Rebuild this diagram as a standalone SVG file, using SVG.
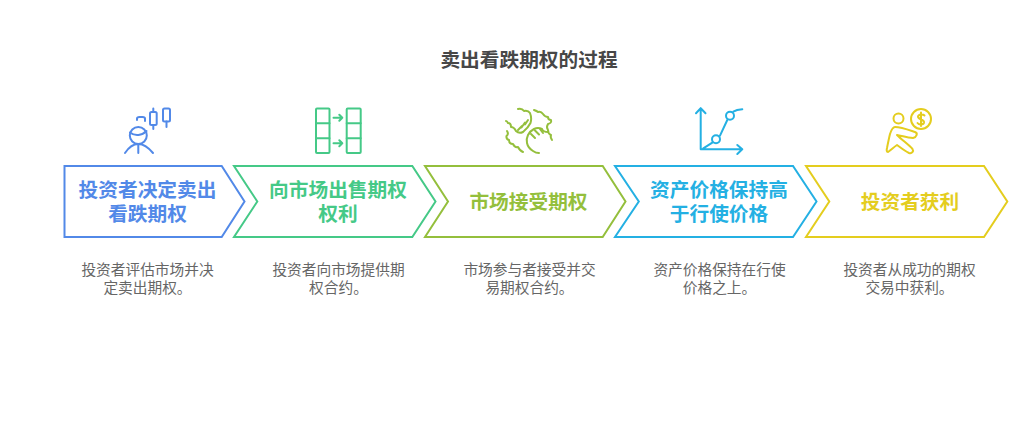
<svg xmlns="http://www.w3.org/2000/svg" width="1024" height="427" viewBox="0 0 1024 427">
<style>
text{font-family:"Liberation Sans","Noto Sans CJK SC",sans-serif;text-anchor:middle}
.t{font-size:19.7px;font-weight:700;fill:#474747}
.l{font-size:19.7px;font-weight:700}
.d{font-size:14.7px;fill:#666}
.s{fill:none;stroke-width:2;stroke-linejoin:miter}
.i{fill:none;stroke-width:2;stroke-linecap:round;stroke-linejoin:round}
.b{stroke:#5289e8}.g{stroke:#45c987}.o{stroke:#94bf3c}.c{stroke:#24b0e3}.y{stroke:#e4cd1e}
</style>
<rect width="1024" height="427" fill="#fff"/>
<text class="t" x="529" y="67">卖出看跌期权的过程</text>
<g id="node-1">
<path class="i b" d="M125 153C129 147 133 144 138.300 144C143 144 148 147 153 153M138.300 144V153"/>
<circle class="i b" cx="138.300" cy="135.500" r="8.500"/><path class="i b" d="M130 132.500C135 136.500 142 135.500 146.500 131"/>
<path class="i b" d="M137 120V118.500C137 117.500 138 117 139.500 117H142.500C144 117 145 117.500 145 118.500V121"/>
<rect class="i b" x="150" y="112" width="6.700" height="13" rx="1.500"/><path class="i b" d="M153.300 108.500V112M153.300 125V129"/>
<rect class="i b" x="163" y="108.500" width="7" height="13" rx="1.500"/><path class="i b" d="M166.500 121.500V127"/>
<path class="s b" d="M64.500 166H221.700L244.500 201.500L221.700 237H64.500Z"/>
<text class="l" fill="#5289e8"><tspan x="147.500" y="197">投资者决定卖出</tspan><tspan x="147.500" y="221">看跌期权</tspan></text>
<text class="d"><tspan x="147.500" y="275">投资者评估市场并决</tspan><tspan x="147.500" y="293">定卖出期权。</tspan></text>
</g>
<g id="node-2">
<rect class="i g" x="316" y="108.500" width="13.500" height="44.500" rx="1"/><path class="i g" d="M316 123.300H329.500M316 138.300H329.500"/>
<rect class="i g" x="346.700" y="108.500" width="14" height="44.500" rx="1"/><path class="i g" d="M346.700 123.300H360.700M346.700 138.300H360.700"/>
<path class="i g" d="M333.500 117.700H342.300M339.300 114.700L342.300 117.700L339.300 120.700M333.500 143.300H342.300M339.300 140.300L342.300 143.300L339.300 146.300"/>
<path class="s g" d="M234 166H412.300L435.500 201.500L412.300 237H234L257.300 201.500Z"/>
<text class="l" fill="#45c987"><tspan x="338" y="197">向市场出售期权</tspan><tspan x="338" y="221">权利</tspan></text>
<text class="d"><tspan x="338.500" y="275">投资者向市场提供期</tspan><tspan x="338.500" y="293">权合约。</tspan></text>
</g>
<g id="node-3">
<path class="i o" d="M518 109Q522 108 524 111Q528 110 530 113Q532 118 530.500 123Q528 128 523 132Q519 134 516 131Q514 127 511 127Q511 123 508 123Q507 121 506 121"/>
<path class="i o" d="M518 130L522 126M521.500 127.500L525 122.500M525 124.500L528 120"/>
<path class="i o" d="M534 110Q537 111 538 112Q541 111 543 114Q545 117 548 117Q548 120 551 120Q552 123 548 124Q546 127 548 130Q548 134 551 135Q550 137 552 140"/>
<path class="i o" d="M548 132Q543 132 542 129Q538 127 534 129Q530 131 528 135Q526 139 527 143Q528 148 533 151Q536 153 539 153"/>
<path class="i o" d="M531 134L535 138M535 130.500L539 134.500M540 129L543 133"/>
<path class="i o" d="M507 131Q509 134 506.500 136Q506 139 509 140Q509 144 513 144Q515 148 518 147Q520 151 523 152"/>
<path class="s o" d="M425 166H602.700L625.500 201.500L602.700 237H425L448 201.500Z"/>
<text class="l" x="528.500" y="209" fill="#94bf3c">市场接受期权</text>
<text class="d"><tspan x="529.500" y="275">市场参与者接受并交</tspan><tspan x="529.500" y="293">易期权合约。</tspan></text>
</g>
<g id="node-4">
<path class="i c" d="M700.700 149.300V108.300M696 113.300L700.700 108.300L705.500 113.300M700.700 149.300H742.300M737.300 145L742.300 149.300L737.300 154M703.300 148.300L712.700 142.300M733.300 111.700C736 110 739 109.500 742.300 109.300M720 135.700L727.300 120"/>
<circle class="i c" cx="716" cy="139.300" r="4"/><circle class="i c" cx="730" cy="115.700" r="4"/>
<path class="s c" d="M615 166H793L816.500 201.500L793 237H615L638.800 201.500Z"/>
<text class="l" fill="#24b0e3"><tspan x="719" y="197">资产价格保持高</tspan><tspan x="719" y="221">于行使价格</tspan></text>
<text class="d"><tspan x="719.500" y="275">资产价格保持在行使</tspan><tspan x="719.500" y="293">价格之上。</tspan></text>
</g>
<g id="node-5">
<circle class="i y" cx="898.500" cy="118.500" r="5"/><circle class="i y" cx="921" cy="119" r="10"/>
<path class="i y" d="M924.500 115.500C923 113.800 918.500 114 918 116.500C917.700 119.500 924.500 119 924 122.500C923.500 125 919 125 917.500 123M921 112.500V126"/>
<path class="i y" d="M895 127C901 127 909 130 915 132C918 133 917 137 913 138C908 138 902 136 897 135C902 140 909 145 912.500 149C914 151 912 154 909 153C905 151 901 148 897 145C894 147 891 150 888 152C886.500 152 886.500 150 887 148C888 143 889 138 890 134C891 131 893 127 895 127Z"/>
<path class="s y" d="M806 166H984L1007.300 201.500L984 237H806L829.300 201.500Z"/>
<text class="l" x="910" y="209" fill="#e4cd1e">投资者获利</text>
<text class="d"><tspan x="909.500" y="275">投资者从成功的期权</tspan><tspan x="909.500" y="293">交易中获利。</tspan></text>
</g>
<g id="connectors"></g>
</svg>
